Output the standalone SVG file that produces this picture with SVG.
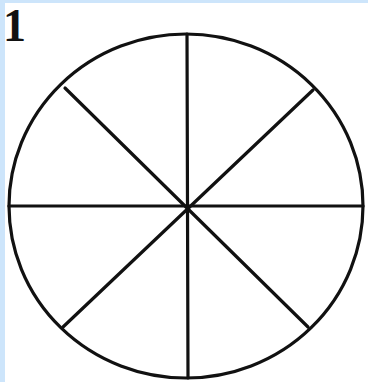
<svg xmlns="http://www.w3.org/2000/svg" width="368" height="382" viewBox="0 0 368 382">
<style>
.ln{stroke:#111;stroke-width:3.2;fill:none;stroke-linecap:round}
.lbl{font-family:"Liberation Serif",serif;font-weight:bold;font-size:46px;fill:#111}
</style>
<rect x="0" y="0" width="368" height="382" fill="#cde5fb"/>
<rect x="5" y="3" width="363" height="379" fill="#ffffff"/>
<text class="lbl" x="3" y="41">1</text>
<g id="circle"><ellipse class="ln" cx="186" cy="206" rx="177" ry="172"/></g>
<g id="spokes">
<line class="ln" x1="187" y1="34" x2="188" y2="378"/>
<line class="ln" x1="9" y1="206" x2="363" y2="206"/>
<line class="ln" x1="65" y1="88" x2="308" y2="327"/>
<line class="ln" x1="313" y1="90" x2="63" y2="327"/>
</g>
</svg>
